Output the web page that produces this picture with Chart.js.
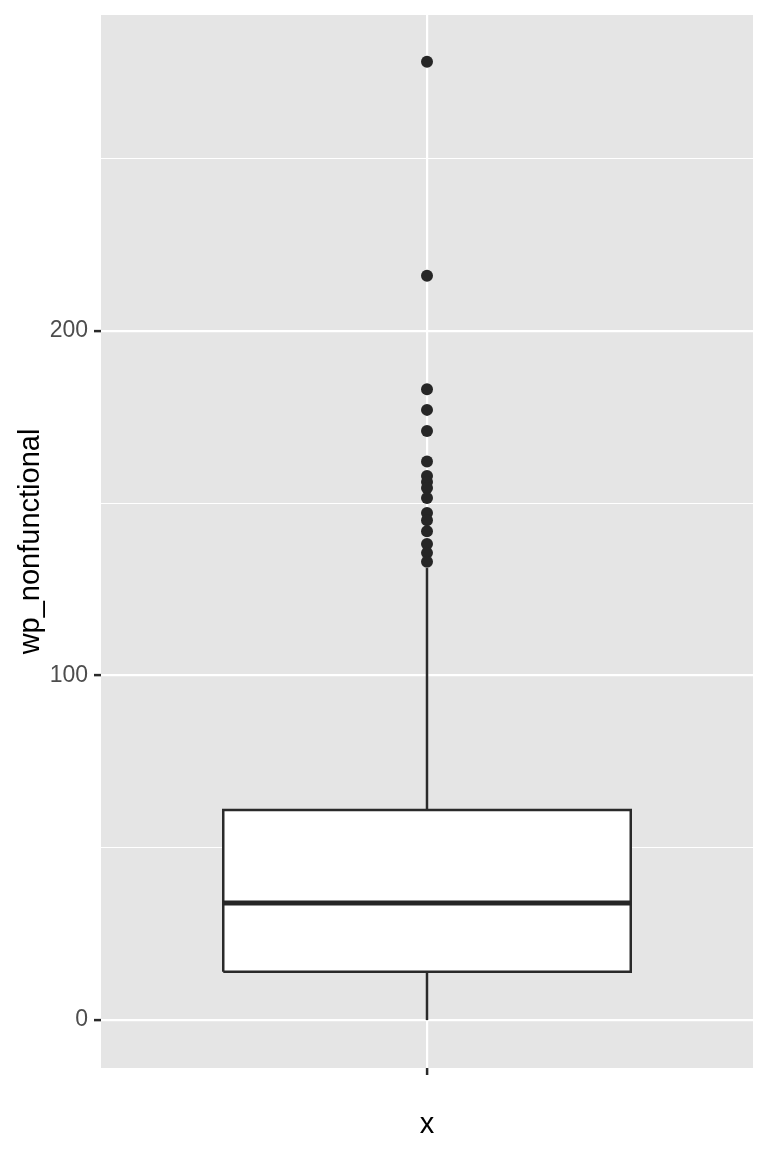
<!DOCTYPE html>
<html>
<head>
<meta charset="utf-8">
<script src="https://cdn.jsdelivr.net/npm/chart.js@4"></script>
<style>
  html, body { margin: 0; padding: 0; background: #fff; }
  #wrap { width: 768px; height: 1152px; }
</style>
</head>
<body>
<div id="wrap"><canvas id="box" width="768" height="1152"></canvas></div>
<script>
'use strict';

// box statistics (wp_nonfunctional)
const boxStats = [14.0, 34.0, 61.0];      // q1, median, q3
const whiskers = [0, 131.2];              // low, high
const outliers = [278.1, 216.0, 183.1, 177.1, 171.0, 162.1, 157.9, 156.2, 154.4,
                  151.5, 147.2, 145.1, 141.9, 138.2, 135.6, 133.0];
const yTicks = [0, 100, 200];
const xCenter = 1;
const boxHalf = 0.375;

const ink = '#2a2a2a';

// grey panel behind everything
const panelBg = {
  id: 'panelBg',
  beforeDraw(chart) {
    const a = chart.chartArea, c = chart.ctx;
    c.save();
    c.fillStyle = '#E5E5E5';
    c.fillRect(a.left, a.top, a.right - a.left, a.bottom - a.top);
    c.restore();
  }
};

const q1 = boxStats[0], med = boxStats[1], q3 = boxStats[2];
const xl = xCenter - boxHalf, xr = xCenter + boxHalf;

new Chart(document.getElementById('box'), {
  type: 'scatter',
  data: {
    datasets: [
      {
        // outliers
        data: outliers.map(v => ({x: xCenter, y: v})),
        pointRadius: 6, pointHoverRadius: 6,
        pointBackgroundColor: '#262626', pointBorderWidth: 0,
        order: 1
      },
      {
        // median
        data: [{x: xl, y: med}, {x: xr, y: med}],
        showLine: true, borderColor: '#262626', borderWidth: 5,
        pointRadius: 0, order: 2
      },
      {
        // box
        data: [{x: xl, y: q1}, {x: xr, y: q1}, {x: xr, y: q3}, {x: xl, y: q3}, {x: xl, y: q1}],
        showLine: true, fill: 'shape', backgroundColor: '#FFFFFF',
        borderColor: ink, borderWidth: 2.5, borderJoinStyle: 'miter',
        pointRadius: 0, order: 3
      },
      {
        // upper whisker
        data: [{x: xCenter, y: q3}, {x: xCenter, y: whiskers[1]}],
        showLine: true, borderColor: ink, borderWidth: 2.5, pointRadius: 0, order: 4
      },
      {
        // lower whisker
        data: [{x: xCenter, y: whiskers[0]}, {x: xCenter, y: q1}],
        showLine: true, borderColor: ink, borderWidth: 2.5, pointRadius: 0, order: 4
      }
    ]
  },
  options: {
    responsive: false,
    devicePixelRatio: 1,
    animation: false,
    events: [],
    layout: { padding: { top: 15, right: 15, left: 0, bottom: 0 } },
    plugins: { legend: { display: false }, tooltip: { enabled: false } },
    scales: {
      x: {
        type: 'linear', min: 0.4, max: 1.6,
        afterBuildTicks: s => { s.ticks = [{value: xCenter}]; },
        afterFit: s => { s.height = 84; s.paddingLeft = 0; s.paddingRight = 0; },
        border: { display: false },
        grid: { color: '#FFFFFF', lineWidth: 2.2, tickColor: ink, tickLength: 7, tickWidth: 2.5 },
        ticks: { callback: () => '', padding: 4 },
        title: {
          display: true, text: 'x', color: '#000',
          font: { family: 'Liberation Sans, Arial, sans-serif', size: 29 },
          padding: { top: 0, bottom: 10 }
        }
      },
      y: {
        type: 'linear', min: -13.9, max: 291.7,
        ticks: {
          stepSize: 50, includeBounds: false,
          callback: v => yTicks.includes(v) ? String(v) : '',
          color: '#4D4D4D', padding: 6,
          font: { family: 'Liberation Sans, Arial, sans-serif', size: 23 }
        },
        afterFit: s => { s.width = 101; s.paddingTop = 0; s.paddingBottom = 0; },
        border: { display: false },
        grid: {
          color: '#FFFFFF',
          lineWidth: c => yTicks.includes(c.tick.value) ? 2.2 : 1.1,
          tickColor: c => yTicks.includes(c.tick.value) ? ink : 'rgba(0,0,0,0)',
          tickLength: 7, tickWidth: 2.5
        },
        title: {
          display: true, text: 'wp_nonfunctional', color: '#000',
          font: { family: 'Liberation Sans, Arial, sans-serif', size: 29 },
          padding: { top: 14, bottom: 0 }
        }
      }
    }
  },
  plugins: [panelBg]
});
</script>
</body>
</html>
